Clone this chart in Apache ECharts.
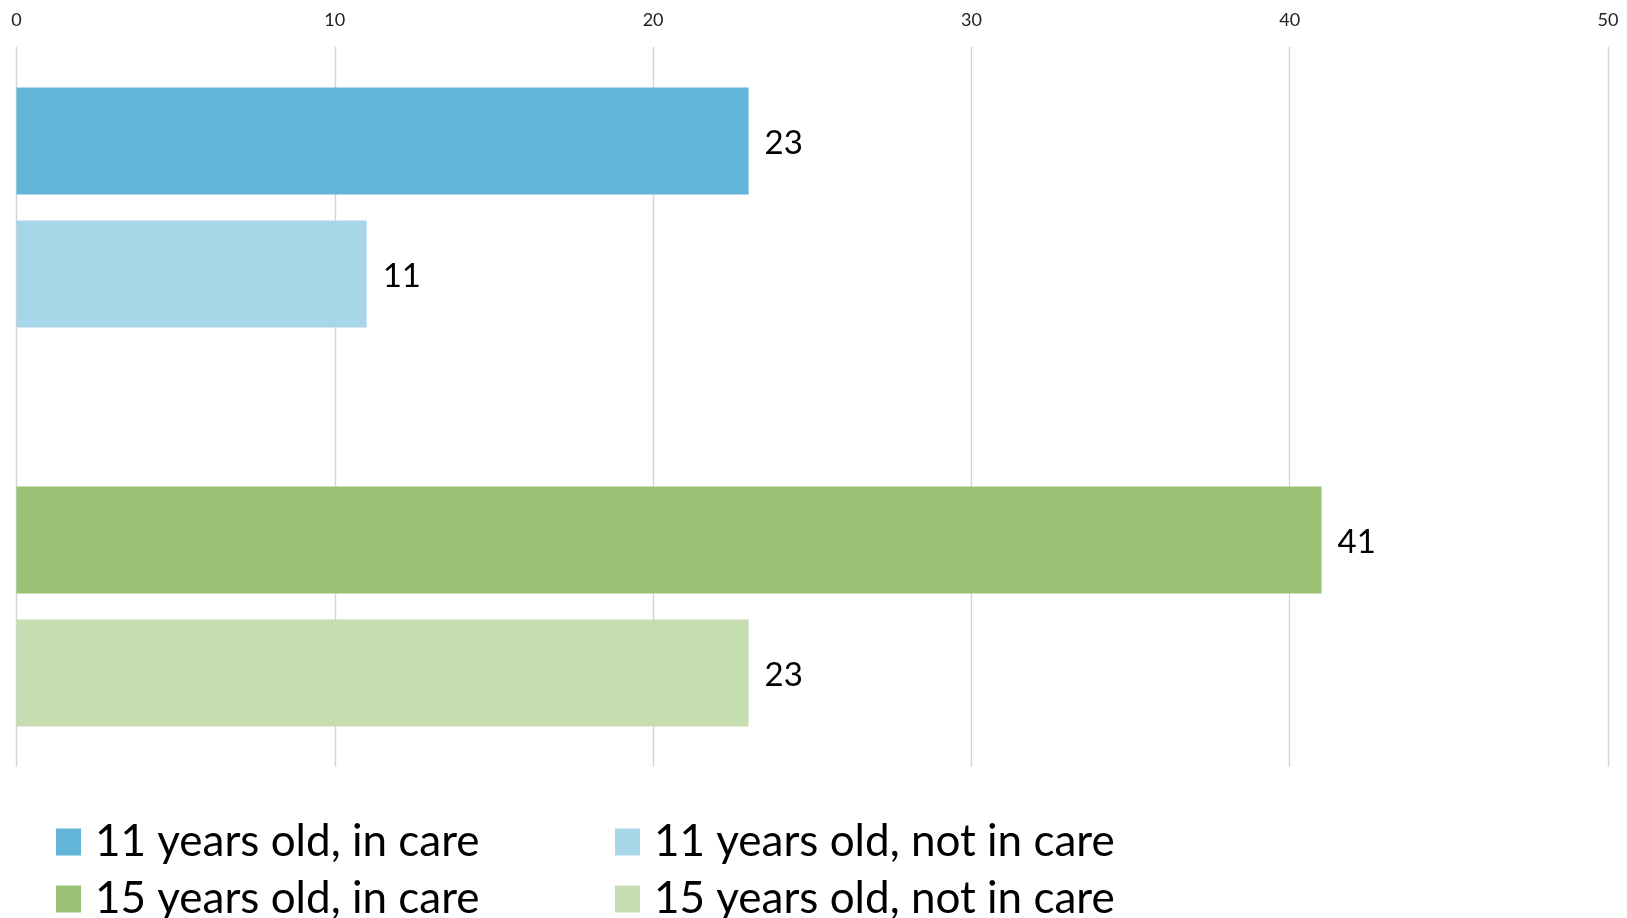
<!DOCTYPE html>
<html>
<head>
<meta charset="utf-8">
<title>Young people in and not in care</title>
<script src="https://cdn.jsdelivr.net/npm/echarts@6/dist/echarts.min.js"></script>
<style>
  html, body { margin: 0; padding: 0; background: #ffffff; }
  #chart { width: 1627px; height: 918px; }
</style>
</head>
<body>
<div id="chart"></div>
<script>
// Series names and their values (percent)
const seriesNames = [
  '11 years old, in care',
  '11 years old, not in care',
  '15 years old, in care',
  '15 years old, not in care'
];
const seriesValues = [23, 11, 41, 23];
const seriesColors = ['#62B5D9', '#A7D6E8', '#9BC175', '#C5DDB1'];
const axisTicks = [0, 10, 20, 30, 40, 50];

const FONT = 'Lato, "Open Sans", sans-serif';

function barSeries(name, value, color) {
  return {
    name: name,
    type: 'bar',
    data: [value],
    barWidth: 107,
    barGap: '24.3%',
    itemStyle: { color: color },
    label: {
      show: true,
      position: 'right',
      distance: 16,
      fontFamily: FONT,
      fontSize: 33,
      color: '#000000',
      offset: [0, 2]
    }
  };
}

// The two age groups are separated by an empty slot
const series = [
  barSeries(seriesNames[0], seriesValues[0], seriesColors[0]),
  barSeries(seriesNames[1], seriesValues[1], seriesColors[1]),
  { name: 'spacer', type: 'bar', data: [null], barWidth: 107, barGap: '24.3%', silent: true },
  barSeries(seriesNames[2], seriesValues[2], seriesColors[2]),
  barSeries(seriesNames[3], seriesValues[3], seriesColors[3])
];

// Legend laid out as a 2 x 2 grid, one entry per cell
function legendCell(name, left, top) {
  return {
    orient: 'horizontal',
    left: left,
    top: top,
    padding: 0,
    itemWidth: 25,
    itemHeight: 27,
    icon: 'rect',
    selectedMode: false,
    data: [name],
    textStyle: {
      fontFamily: FONT,
      fontSize: 44,
      lineHeight: 46,
      color: '#000000',
      padding: [0, 0, 0, 9]
    }
  };
}

const chart = echarts.init(document.getElementById('chart'), null, { renderer: 'canvas' });
chart.setOption({
  animation: false,
  backgroundColor: '#ffffff',
  grid: { left: 16.5, right: 19, top: 47, bottom: 151, containLabel: false },
  legend: [
    legendCell(seriesNames[0], 56, 819),
    legendCell(seriesNames[1], 615, 819),
    legendCell(seriesNames[2], 56, 876),
    legendCell(seriesNames[3], 615, 876)
  ],
  xAxis: {
    type: 'value',
    position: 'top',
    min: axisTicks[0],
    max: axisTicks[axisTicks.length - 1],
    interval: 10,
    axisLine: { show: false },
    axisTick: { show: false },
    axisLabel: {
      fontFamily: FONT,
      fontSize: 18,
      color: '#222222',
      margin: 18,
      formatter: function (v) { return axisTicks.indexOf(v) >= 0 ? String(v) : ''; }
    },
    splitLine: { show: true, lineStyle: { color: '#d4d4d4', width: 1.4 } }
  },
  yAxis: {
    type: 'category',
    inverse: true,
    data: [''],
    axisLine: { show: false },
    axisTick: { show: false },
    axisLabel: { show: false }
  },
  series: series
});
</script>
</body>
</html>
